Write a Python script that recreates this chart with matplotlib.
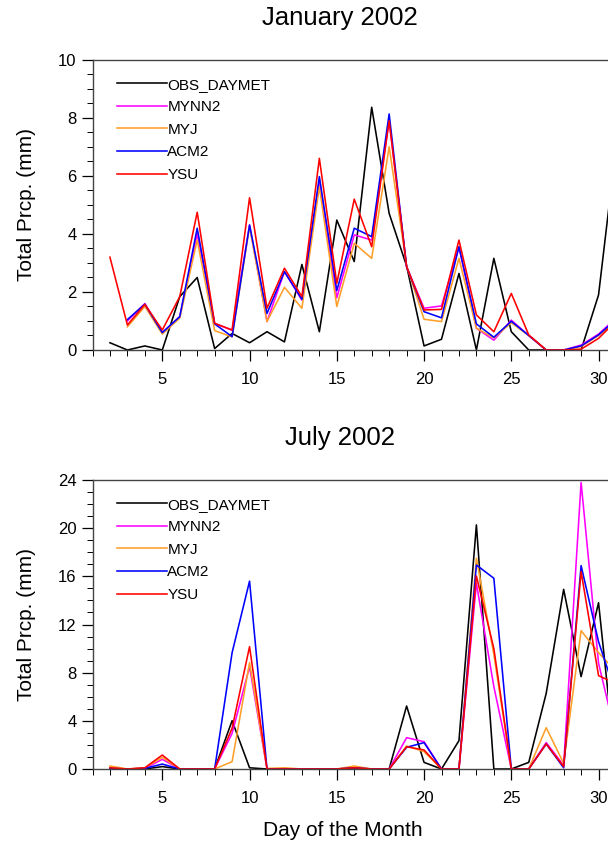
import numpy as np
import matplotlib
matplotlib.use('Agg')
import matplotlib.pyplot as plt
from matplotlib.ticker import MultipleLocator

plt.rcParams['font.family'] = ['Liberation Sans', 'DejaVu Sans']

days = list(range(2, 32))
names = ['OBS_DAYMET', 'MYNN2', 'MYJ', 'ACM2', 'YSU']
colors = ['black', '#FF00FF', '#FF9F2A', '#0000FF', '#FF0000']

# January 2002 daily totals (mm); model runs other than YSU start on day 3
jan_obs = [0.25, 0.0, 0.14, 0.0, 1.84, 2.5, 0.05, 0.57, 0.25, 0.63, 0.28, 2.95, 0.63, 4.48, 3.05,
           8.37, 4.71, 2.9, 0.14, 0.37, 2.64, 0.0, 3.16, 0.63, 0.0, 0.0, 0.0, 0.0, 1.9, 7.0]
jan_mynn2 = [1.0, 1.6, 0.6, 1.15, 4.0, 0.92, 0.68, 4.31, 0.98, 2.7, 1.72, 5.8, 1.8, 3.97,
             3.79, 7.93, 2.87, 1.44, 1.52, 3.56, 0.75, 0.34, 1.03, 0.5, 0.0, 0.0, 0.17, 0.55, 1.1]
jan_myj = [0.8, 1.5, 0.55, 1.1, 3.79, 0.67, 0.45, 4.25, 0.98, 2.16, 1.44, 5.63, 1.5, 3.68,
           3.16, 7.01, 2.9, 1.06, 0.98, 3.16, 0.75, 0.42, 0.94, 0.5, 0.0, 0.0, 0.12, 0.5, 1.0]
jan_acm2 = [1.05, 1.58, 0.6, 1.15, 4.2, 0.9, 0.46, 4.31, 1.26, 2.7, 1.75, 5.98, 2.05, 4.2,
            3.91, 8.14, 2.87, 1.32, 1.11, 3.56, 0.9, 0.44, 0.99, 0.5, 0.0, 0.0, 0.14, 0.52, 1.05]
jan_ysu = [3.2, 0.86, 1.57, 0.69, 1.84, 4.75, 0.92, 0.69, 5.25, 1.44, 2.82, 1.84, 6.61, 2.3, 5.2,
           3.56, 7.9, 2.87, 1.38, 1.4, 3.79, 1.21, 0.63, 1.95, 0.52, 0.0, 0.0, 0.03, 0.4, 1.0]

# July 2002 daily totals (mm), days 2-31
jul_obs = [0.0, 0.0, 0.0, 0.2, 0.0, 0.0, 0.0, 4.01, 0.1, 0.0, 0.0, 0.0, 0.0, 0.0, 0.0,
           0.0, 0.0, 5.23, 0.55, 0.0, 2.35, 20.27, 0.0, 0.0, 0.55, 6.28, 14.92, 7.67, 13.81, 0.0]
jul_mynn2 = [0.05, 0.0, 0.05, 0.8, 0.0, 0.0, 0.0, 2.96, 8.5, 0.0, 0.0, 0.0, 0.0, 0.0, 0.15,
             0.0, 0.0, 2.6, 2.27, 0.0, 0.0, 15.42, 6.84, 0.0, 0.0, 2.19, 0.3, 23.8, 8.78, 2.7]
jul_myj = [0.25, 0.0, 0.1, 0.97, 0.0, 0.0, 0.0, 0.61, 8.83, 0.05, 0.1, 0.0, 0.0, 0.0, 0.25,
           0.0, 0.0, 1.91, 1.44, 0.0, 0.0, 17.5, 9.5, 0.0, 0.0, 3.43, 0.47, 11.49, 9.66, 8.1]
jul_acm2 = [0.05, 0.0, 0.05, 0.41, 0.0, 0.0, 0.0, 9.66, 15.6, 0.0, 0.0, 0.0, 0.0, 0.0, 0.1,
            0.0, 0.0, 1.8, 2.19, 0.0, 0.0, 16.94, 15.84, 0.0, 0.0, 2.08, 0.1, 16.89, 10.57, 6.2]
jul_ysu = [0.1, 0.0, 0.1, 1.16, 0.0, 0.0, 0.0, 3.38, 10.16, 0.0, 0.0, 0.0, 0.0, 0.0, 0.1,
           0.0, 0.0, 1.85, 1.58, 0.0, 0.0, 16.03, 10.0, 0.0, 0.0, 2.08, 0.2, 16.39, 7.75, 7.1]

jan = [jan_obs, jan_mynn2, jan_myj, jan_acm2, jan_ysu]
jul = [jul_obs, jul_mynn2, jul_myj, jul_acm2, jul_ysu]

W, H = 608, 847
fig = plt.figure(figsize=(W / 100, H / 100), dpi=100)


def panel(top_px, bot_px, series, ymax, ymajor, yminor, title, title_y):
    # the x range runs to day 31, a little past the right edge of the figure
    ax = fig.add_axes([92.5 / W, 1 - bot_px / H, (616 - 92.5) / W, (bot_px - top_px) / H])
    for s, c, n in zip(series, colors, names):
        ax.plot(days[-len(s):], s, color=c, lw=1.15, label=n)
    ax.set_xlim(1, 31)
    ax.set_ylim(0, ymax)
    ax.xaxis.set_major_locator(MultipleLocator(5))
    ax.xaxis.set_minor_locator(MultipleLocator(1))
    ax.yaxis.set_major_locator(MultipleLocator(ymajor))
    ax.yaxis.set_minor_locator(MultipleLocator(yminor))
    ax.tick_params(which='major', direction='out', length=8, width=0.9, labelsize=12)
    ax.tick_params(which='minor', direction='out', length=4, width=0.7)
    ax.tick_params(axis='x', pad=8)
    for sp in ax.spines.values():
        sp.set_color('#444444')
        sp.set_linewidth(1.0)
    ax.set_ylabel('Total Prcp. (mm)', fontsize=15)
    ax.yaxis.set_label_coords(-0.108, 0.5)
    fig.text(340 / W, 1 - title_y / H, title, ha='center', va='center', fontsize=18.5)
    ax.legend(loc='upper left', bbox_to_anchor=(0.035, 0.96), frameon=False, fontsize=11,
              handlelength=3.3, handletextpad=0.0, labelspacing=0.56, borderaxespad=0.0)
    return ax


panel(60, 350, [np.array(s) for s in jan], 10, 2, 0.5, 'January 2002', 18)
panel(480, 769, [np.array(s) for s in jul], 24, 4, 1, 'July 2002', 438)
fig.text(343 / W, 1 - 830 / H, 'Day of the Month', ha='center', va='center', fontsize=15)

fig.savefig('out.png', dpi=100)
